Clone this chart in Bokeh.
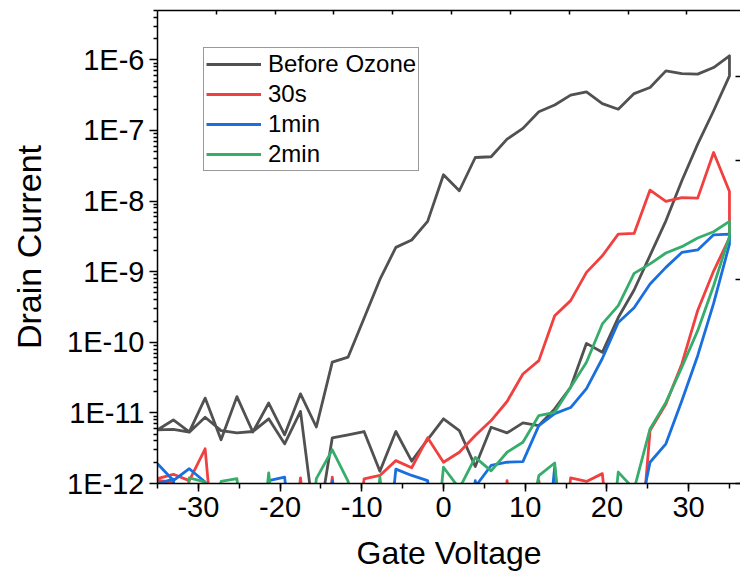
from bokeh.plotting import figure
from bokeh.models import (Range1d, LinearAxis, SingleIntervalTicker, FixedTicker,
                          CustomJSTickFormatter, Legend, LegendItem, ColumnDataSource)
from bokeh.embed import file_html
from bokeh.resources import INLINE

FONT = "Liberation Sans"

# Gate voltage sweep points (V)
gate_voltage = [-35.0, -33.06, -31.11, -29.17, -27.22, -25.28, -23.33, -21.39, -19.44,
                -17.5, -15.56, -13.61, -11.67, -9.72, -7.78, -5.83, -3.89, -1.94, 0.0,
                1.94, 3.89, 5.83, 7.78, 9.72, 11.67, 13.61, 15.56, 17.5, 19.44, 21.39,
                23.33, 25.28, 27.22, 29.17, 31.11, 33.06, 35.0]

# Drain current (A); "_up" = sweep that turns on early, "_down" = sweep that turns on late
before_up = [5.75e-12, 7.94e-12, 5.37e-12, 1.62e-11, 4.17e-12, 1.70e-11, 5.37e-12, 1.38e-11,
             4.90e-12, 1.86e-11, 6.31e-12, 5.25e-11, 6.17e-11, 2.19e-10, 7.76e-10, 2.21e-9,
             2.81e-9, 5.15e-9, 2.36e-8, 1.40e-8, 4.14e-8, 4.24e-8, 7.55e-8, 1.07e-7, 1.84e-7,
             2.29e-7, 3.16e-7, 3.52e-7, 2.40e-7, 2.00e-7, 3.33e-7, 4.06e-7, 6.98e-7, 6.40e-7,
             6.27e-7, 7.78e-7, 1.14e-6]
before_down = [5.75e-12, 5.86e-12, 5.32e-12, 8.67e-12, 5.62e-12, 5.21e-12, 5.45e-12, 8.24e-12,
               3.65e-12, 1.05e-11, 1.8e-13, 4.44e-12, 4.90e-12, 5.45e-12, 1.49e-12, 5.45e-12,
               2.07e-12, 4.17e-12, 8.24e-12, 5.62e-12, 1.74e-12, 6.27e-12, 5.21e-12, 7.23e-12,
               6.62e-12, 1.14e-11, 2.31e-11, 9.66e-11, 7.21e-11, 2.24e-10, 5.50e-10, 1.70e-9,
               5.25e-9, 1.94e-8, 6.41e-8, 1.90e-7, 5.93e-7]

s30_up = [1.17e-12, 1.35e-12, 1.10e-12, 3.10e-12, 1e-14, 1e-14, 1e-14, 1e-14, 1e-14,
          1.17e-12, 1e-14, 1.23e-12, 1e-14, 1.16e-12, 1.30e-12, 2.11e-12, 1.67e-12, 4.44e-12,
          2.0e-12, 2.77e-12, 4.78e-12, 7.78e-12, 1.45e-11, 3.56e-11, 5.50e-11, 2.38e-10,
          3.89e-10, 9.77e-10, 1.68e-9, 3.41e-9, 3.48e-9, 1.43e-8, 9.89e-9, 1.12e-8, 1.10e-8,
          4.88e-8, 1.37e-8]
s30_down = [1.1e-12, 1.05e-12, 1e-14, 1e-14, 1e-14, 1e-14, 1e-14, 1e-14, 1e-14,
            1.2e-12, 1e-14, 1e-14, 1e-14, 1e-14, 1e-14, 1e-14, 1e-14, 1e-14,
            1e-14, 1e-14, 1e-14, 1e-14, 1.1e-12, 1e-14, 1.1e-12, 1e-14,
            1.2e-12, 1.07e-12, 1.38e-12, 1e-14, 1e-14, 5.62e-12, 1.34e-11, 4.94e-11, 2.82e-10,
            1.02e-9, 3.02e-9]

m1_up = [1.91e-12, 1.10e-12, 1.62e-12, 1.05e-12, 1e-14, 1e-14, 1e-14, 1.1e-12, 1.23e-12,
         1e-14, 1e-14, 1.1e-12, 1e-14, 1e-14, 1e-14, 1.6e-12, 1.3e-12, 1.1e-12,
         1e-14, 1e-14, 9e-13, 1.80e-12, 2.0e-12, 2.04e-12, 6.61e-12, 9.77e-12,
         1.19e-11, 2.21e-11, 5.89e-11, 1.91e-10, 3.09e-10, 6.70e-10, 1.15e-9, 1.87e-9, 2.03e-9,
         3.33e-9, 3.41e-9]
m1_down = [1.0e-12, 1.15e-12, 1e-14, 1e-14, 1e-14, 1e-14, 1e-14, 1.05e-12, 1e-14,
           1e-14, 1e-14, 1e-14, 1e-14, 1e-14, 1e-14, 1e-14, 1e-14, 1e-14,
           1e-14, 1e-14, 1.1e-12, 1e-14, 1e-14, 1e-14, 1e-14, 1.7e-12,
           1e-14, 1e-14, 1e-14, 1e-14, 1.6e-13, 2.0e-12, 3.65e-12, 1.49e-11, 6.46e-11,
           3.55e-10, 2.45e-9]

m2_up = [1e-14, 1e-14, 1.2e-12, 1.05e-12, 1e-14, 1e-14, 1e-14, 1.41e-12, 1e-14,
         1e-14, 1.17e-12, 3.0e-12, 1.07e-12, 1e-14, 1.23e-12, 1e-14, 1e-14, 1e-14,
         1.70e-12, 8.5e-13, 2.34e-12, 1.51e-12, 2.77e-12, 3.84e-12, 9.16e-12, 1.02e-11,
         2.31e-11, 5.20e-11, 1.82e-10, 3.30e-10, 9.46e-10, 1.29e-9, 1.84e-9, 2.26e-9, 3.0e-9,
         3.68e-9, 5.15e-9]
m2_down = [1e-14, 1e-14, 1e-14, 1e-14, 1.07e-12, 1.17e-12, 1e-14, 1e-14, 1e-14,
           1e-14, 1e-14, 1e-14, 1e-14, 1e-14, 1e-14, 1e-14, 1e-14, 1e-14,
           1e-14, 1e-14, 1e-14, 1e-14, 1e-14, 1e-13, 1.29e-12, 1.95e-12,
           1e-14, 1e-14, 1e-14, 1.45e-12, 8.3e-13, 5.93e-12, 1.41e-11, 4.43e-11, 1.46e-10,
           6.31e-10, 3.16e-9]

series_names = ["Before Ozone", "30s", "1min", "2min"]
series_colors = ["#515151", "#F14040", "#1A6FDF", "#37AD6B"]
series_data = [(before_up, before_down), (s30_up, s30_down), (m1_up, m1_down), (m2_up, m2_down)]

decades = [1e-12, 1e-11, 1e-10, 1e-9, 1e-8, 1e-7, 1e-6]
minor_log = [m * d for d in decades for m in range(2, 10)]

p = figure(width=740, height=578, y_axis_type="log",
           x_range=Range1d(-35, 36.35), y_range=Range1d(1e-12, 5e-6),
           output_backend="svg", toolbar_location=None,
           min_border_left=157, min_border_right=0, min_border_top=10, min_border_bottom=95)
p.outline_line_color = None
p.xgrid.visible = False
p.ygrid.visible = False
p.background_fill_color = "white"
p.border_fill_color = "white"

renderers = []
for (up, down), color in zip(series_data, series_colors):
    src = ColumnDataSource(dict(x=gate_voltage + gate_voltage[::-1], y=up + down[::-1]))
    r = p.line("x", "y", source=src, line_color=color, line_width=2.8, line_join="round")
    renderers.append(r)

xa = p.xaxis[0]
ya = p.yaxis[0]
for ax in [xa, ya]:
    ax.axis_line_width = 1.5
    ax.axis_line_color = "black"
    ax.major_tick_line_width = 1.5
    ax.minor_tick_line_width = 1.5
    ax.major_tick_line_color = "black"
    ax.minor_tick_line_color = "black"
    ax.major_tick_in = 0
    ax.major_tick_out = 8
    ax.minor_tick_in = 0
    ax.minor_tick_out = 4
    ax.major_label_text_font = FONT
    ax.major_label_text_font_size = "29px"
    ax.major_label_text_color = "black"
    ax.axis_label_text_font = FONT
    ax.axis_label_text_font_style = "normal"
    ax.axis_label_text_color = "black"

# bottom axis
xa.ticker = SingleIntervalTicker(interval=10, num_minor_ticks=2)
xa.formatter = CustomJSTickFormatter(code="return tick.toFixed(0);")
xa.axis_label = "Gate Voltage"
xa.axis_label_text_font_size = "32px"
xa.minor_tick_out = 5
xa.major_label_standoff = 5
xa.axis_label_standoff = 15

# left axis
ya.ticker = FixedTicker(ticks=decades, minor_ticks=minor_log)
ya.formatter = CustomJSTickFormatter(code="return '1E' + Math.round(Math.log10(tick));")
ya.axis_label = "Drain Current"
ya.axis_label_text_font_size = "34px"
ya.major_label_standoff = 5
ya.axis_label_standoff = 16

# top and right frame axes (ticks only, no labels)
blank = CustomJSTickFormatter(code="return '';")
p.extra_x_ranges = {"top": Range1d(0, 9.91)}
p.extra_y_ranges = {"right": Range1d(0, 5)}
top = LinearAxis(x_range_name="top", ticker=FixedTicker(ticks=[1, 2, 3, 4, 5, 6, 7, 8, 9], minor_ticks=[]),
                 formatter=blank,
                 major_tick_in=4, major_tick_out=0, minor_tick_in=0, minor_tick_out=0,
                 major_label_text_font_size="1px", major_label_standoff=0,
                 axis_line_width=1.5, axis_line_color="black", major_tick_line_width=1.5)
p.add_layout(top, "above")
right = LinearAxis(y_range_name="right", ticker=FixedTicker(ticks=[1, 2, 3, 4], minor_ticks=[]),
                   formatter=blank,
                   major_tick_in=5, major_tick_out=0, minor_tick_in=0, minor_tick_out=0,
                   major_label_text_font_size="1px", major_label_standoff=0,
                   axis_line_alpha=0, major_tick_line_width=1.5)
p.add_layout(right, "right")

legend = Legend(items=[LegendItem(label=n, renderers=[r]) for n, r in zip(series_names, renderers)],
                location=(46, 312), label_text_font=FONT, label_text_font_size="24px",
                label_text_color="black",
                glyph_width=55, glyph_height=24, label_height=24, spacing=2, padding=2, margin=0,
                label_standoff=7, border_line_color="#333333", border_line_width=1,
                background_fill_alpha=1)
p.add_layout(legend)

open("out.html", "w").write(file_html(p, INLINE))
